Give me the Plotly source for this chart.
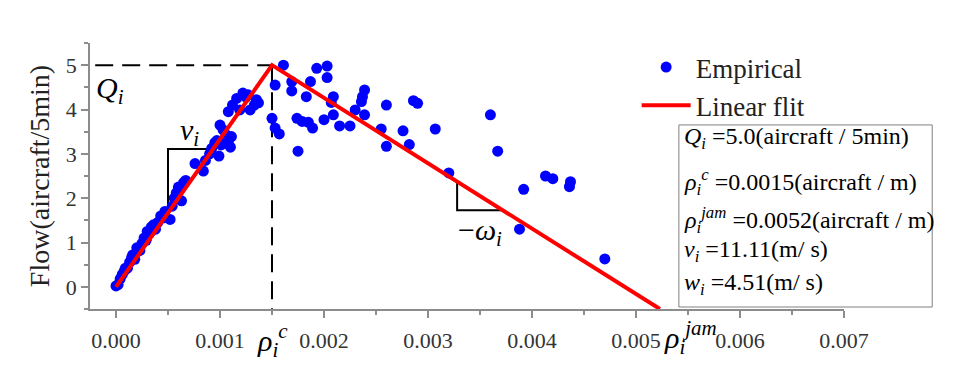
import plotly.graph_objects as go

# ---------------- data ----------------
# empirical points: density (1e-3 aircraft/m) and flow (aircraft/5min)
emp_x_milli = [
    0.00, 0.02, 0.04, 0.06, 0.08, 0.09, 0.11, 0.13, 0.15, 0.16, 0.18, 0.20, 0.21, 0.23,
    0.25, 0.27, 0.29, 0.30, 0.32, 0.34, 0.36, 0.38, 0.40, 0.43, 0.45, 0.47, 0.52, 0.54,
    0.56, 0.58, 0.60, 0.63, 0.65, 0.67, 0.76, 0.84, 0.86, 0.90, 0.92, 0.95, 0.97, 0.99,
    1.00, 1.01, 1.03, 1.05, 1.06, 1.08, 1.10, 1.11, 1.08, 1.12, 1.16, 1.19, 1.22, 1.25,
    1.27, 1.29, 1.33, 1.35, 1.37,
    1.61, 1.53, 1.93, 2.03, 2.03, 1.69, 1.87, 1.69, 1.83, 2.09, 2.07, 2.39, 2.37, 2.36,
    2.60, 2.86, 2.90, 3.60, 1.50, 1.53, 1.57, 1.74, 1.79, 1.85, 1.89, 2.00, 2.09, 2.15,
    2.25, 2.30, 2.39, 2.55, 2.76, 3.07, 2.60, 2.82, 1.75, 3.20, 3.67, 3.92, 4.13, 4.20,
    4.37, 4.36, 3.88, 4.70,
]
emp_flow = [
    0.02, 0.05, 0.18, 0.28, 0.36, 0.42, 0.42, 0.55, 0.66, 0.72, 0.62, 0.88, 0.80, 0.82,
    0.98, 1.10, 1.05, 1.25, 1.20, 1.35, 1.40, 1.30, 1.45, 1.60, 1.55, 1.70, 1.52, 1.82,
    2.00, 2.12, 2.25, 1.94, 2.35, 2.40, 2.78, 2.61, 2.85, 3.00, 3.12, 3.25, 3.30, 2.95,
    3.65, 3.20, 3.54, 3.35, 3.43, 3.27, 3.15, 3.39, 3.95, 4.10, 4.25, 3.99, 4.37, 4.28,
    4.33, 3.99, 4.10, 4.22, 4.15,
    5.00, 4.55, 4.93, 4.98, 4.72, 4.63, 4.63, 4.42, 4.29, 4.29, 4.16, 4.44, 4.29, 4.18,
    4.10, 4.20, 4.14, 3.88, 3.80, 3.58, 3.45, 3.80, 3.73, 3.71, 3.58, 3.77, 3.88, 3.63,
    3.63, 3.99, 3.88, 3.56, 3.52, 3.56, 3.17, 3.21, 3.06, 2.57, 3.06, 2.20, 2.50, 2.44,
    2.37, 2.26, 1.30, 0.63,
]
emp_x = [v / 1000 for v in emp_x_milli]

# fitted triangular diagram (as drawn)
fit_x = [0.0, 0.0015, 0.00523]
fit_y = [0.0, 5.0, -0.5]

# critical point guides
crit_x = 0.0015
crit_q = 5.0
guide_h_x = [-0.0002, crit_x]
guide_v_y = [crit_q, -0.5]

# slope triangles
v_tri_x = [0.0005, 0.0005, 0.000933]
v_tri_y = [1.667, 3.11, 3.11]
w_tri_x = [0.00328, 0.00328, 0.003714]
w_tri_y = [2.36, 1.73, 1.73]

x_ticks = [0.000, 0.001, 0.002, 0.003, 0.004, 0.005, 0.006, 0.007]
y_ticks = [0, 1, 2, 3, 4, 5]

box_lines = [
    "<i>Q<sub>i</sub></i> =5.0(aircraft / 5min)",
    "<i>ρ<sub>i</sub><sup>c</sup></i> =0.0015(aircraft / m)",
    "<i>ρ<sub>i</sub><sup>jam</sup></i> =0.0052(aircraft / m)",
    "<i>v<sub>i</sub></i> =11.11(m/ s)",
    "<i>w<sub>i</sub></i> =4.51(m/ s)",
]

FONT = "Liberation Serif"
AX = "#8c8c8c"

fig = go.Figure()

fig.add_trace(go.Scatter(x=guide_h_x, y=[crit_q, crit_q], mode="lines",
                         line=dict(color="black", width=2, dash="18px,9px"),
                         showlegend=False, hoverinfo="skip"))
fig.add_trace(go.Scatter(x=[crit_x, crit_x], y=guide_v_y, mode="lines",
                         line=dict(color="black", width=2, dash="18px,9px"),
                         showlegend=False, hoverinfo="skip", cliponaxis=False))
fig.add_trace(go.Scatter(x=v_tri_x, y=v_tri_y, mode="lines",
                         line=dict(color="black", width=2),
                         showlegend=False, hoverinfo="skip"))
fig.add_trace(go.Scatter(x=w_tri_x, y=w_tri_y, mode="lines",
                         line=dict(color="black", width=2),
                         showlegend=False, hoverinfo="skip"))

fig.add_trace(go.Scatter(x=emp_x, y=emp_flow, mode="markers", name="Empirical",
                         marker=dict(color="#0000ff", size=11, line=dict(width=0))))
fig.add_trace(go.Scatter(x=fit_x, y=fit_y, mode="lines", name="Linear flit",
                         line=dict(color="#ff0000", width=4)))

ann_font = dict(family=FONT, size=30, color="black")
fig.add_annotation(x=-0.00006, y=4.44, text="<i>Q<sub>i</sub></i>", showarrow=False, font=ann_font)
fig.add_annotation(x=0.00071, y=3.5, text="<i>v<sub>i</sub></i>", showarrow=False, font=ann_font)
fig.add_annotation(x=0.0035, y=1.23, text="−<i>ω<sub>i</sub></i>", showarrow=False, font=ann_font)
fig.add_annotation(x=0.0015, yref="paper", y=-0.205, text="<i>ρ<sub>i</sub><sup>c</sup></i>",
                   showarrow=False, font=ann_font)
fig.add_annotation(x=0.00552, yref="paper", y=-0.195, text="<i>ρ<sub>i</sub><sup>jam</sup></i>",
                   showarrow=False, font=ann_font)

# parameter box
fig.add_shape(type="rect", xref="paper", yref="paper", x0=0.781, x1=1.117, y0=0.0075, y1=0.692,
              line=dict(color="#808080", width=1), fillcolor="white", layer="above")
box_y = [0.643, 0.476, 0.335, 0.217, 0.095]
for txt, yy in zip(box_lines, box_y):
    fig.add_annotation(xref="paper", yref="paper", x=0.785, y=yy, xanchor="left", yanchor="middle",
                       text=txt, align="left", showarrow=False,
                       font=dict(family=FONT, size=24, color="black"))

fig.update_layout(
    width=952, height=366, template=None,
    paper_bgcolor="white", plot_bgcolor="white",
    margin=dict(l=82, r=116, t=35, b=65),
    font=dict(family=FONT, color="#333333"),
    legend=dict(x=0.725, y=1.0, xanchor="left", yanchor="top",
                font=dict(family=FONT, size=27, color="#222222"),
                bgcolor="rgba(0,0,0,0)", tracegroupgap=0, itemwidth=49),
    xaxis=dict(range=[-0.00025, 0.007], tickvals=x_ticks, ticktext=[f"{v:.3f}" for v in x_ticks],
               showgrid=False, zeroline=False, showline=True, linecolor=AX, linewidth=1.5,
               ticks="outside", ticklen=7, tickcolor=AX, tickwidth=1.5, ticklabelstandoff=4,
               minor=dict(dtick=0.0005, tick0=0, ticks="outside", ticklen=4, tickcolor=AX, tickwidth=1.5),
               tickfont=dict(family=FONT, size=22, color="#333333"), automargin=False),
    yaxis=dict(range=[-0.5, 5.5], tickvals=y_ticks,
               showgrid=False, zeroline=False, showline=True, linecolor=AX, linewidth=1.5,
               ticks="outside", ticklen=7, tickcolor=AX, tickwidth=1.5,
               minor=dict(dtick=0.5, tick0=0, ticks="outside", ticklen=4, tickcolor=AX, tickwidth=1.5),
               tickfont=dict(family=FONT, size=22, color="#333333"),
               title=dict(text="Flow(aircraft/5min)", font=dict(family=FONT, size=28, color="#222222"), standoff=8),
               automargin=False),
)

fig.write_html("out.html")
